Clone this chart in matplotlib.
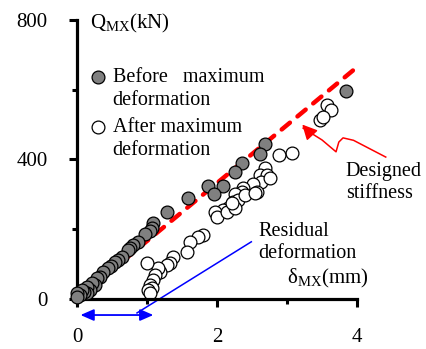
import numpy as np
import matplotlib
matplotlib.use("Agg")
import matplotlib.pyplot as plt
from matplotlib.ticker import MultipleLocator

plt.rcParams['font.family'] = ['Liberation Serif', 'DejaVu Serif']
plt.rcParams['mathtext.fontset'] = 'custom'
plt.rcParams['mathtext.rm'] = 'Liberation Serif'
plt.rcParams['mathtext.it'] = 'Liberation Serif:italic'

# before maximum deformation (filled grey)
before_x = [3.84, 2.69, 2.61, 2.36, 2.26, 2.09, 1.87, 1.96, 1.59, 1.29, 1.09, 1.07,
            1.04, 0.97, 0.87, 0.80, 0.76, 0.73, 0.64, 0.59, 0.54, 0.49, 0.44, 0.37,
            0.33, 0.29, 0.26, 0.21, 0.19, 0.14, 0.14, 0.10, 0.07, 0.04, 0.0, 0.0]
before_y = [596, 444, 416, 390, 364, 324, 324, 301, 290, 249, 218, 204,
            195, 186, 163, 155, 146, 140, 120, 112, 106, 95, 89, 77,
            63, 60, 40, 46, 26, 34, 17, 20, 26, 11, 17, 5]

# after maximum deformation (open)
after_x = [3.57, 3.63, 3.47, 3.51, 3.07, 2.89, 2.69, 2.61, 2.71, 2.63, 2.51, 2.57,
           2.76, 2.37, 2.36, 2.26, 2.23, 2.30, 2.16, 2.09, 1.97, 2.00, 2.14, 2.26,
           2.21, 2.40, 2.54, 1.80, 1.73, 1.61, 1.57, 1.37, 1.33, 1.29, 1.19, 1.16,
           1.00, 1.11, 1.09, 1.04, 1.07, 1.01, 1.04]
after_y = [556, 542, 513, 522, 419, 413, 376, 356, 356, 335, 330, 307,
           347, 318, 307, 301, 278, 284, 261, 255, 249, 235, 249, 261,
           275, 298, 304, 183, 178, 163, 135, 120, 103, 97, 77, 89,
           103, 69, 54, 40, 32, 26, 17]

# designed stiffness line
design_x = [0, 4.0]
design_y = [0, 665]

fig = plt.figure(figsize=(4.26, 3.49), dpi=100)
ax = fig.add_axes([0.1808, 0.1433, 0.6573, 0.7994])

ax.plot(design_x, design_y, color='#ff0000', lw=3.2, linestyle=(0, (2.4, 2.2)),
        dash_capstyle='round', zorder=1)
ax.scatter(after_x, after_y, s=85, facecolor='white', edgecolor='black',
           linewidth=0.9, zorder=2, clip_on=False)
ax.scatter(before_x, before_y, s=85, facecolor='#808080', edgecolor='black',
           linewidth=0.9, zorder=3, clip_on=False)

ax.set_xlim(0, 4)
ax.set_ylim(0, 800)
ax.xaxis.set_major_locator(MultipleLocator(2))
ax.xaxis.set_minor_locator(MultipleLocator(1))
ax.yaxis.set_major_locator(MultipleLocator(400))
ax.yaxis.set_minor_locator(MultipleLocator(200))
for s in ['top', 'right']:
    ax.spines[s].set_visible(False)
for s in ['left', 'bottom']:
    ax.spines[s].set_linewidth(2.3)
ax.tick_params(which='major', direction='out', length=6, width=2.2,
               labelsize=15, pad=15)
ax.tick_params(which='minor', direction='out', length=3.5, width=2.2)

# axis titles
ax.text(0.19, 790, r'Q$_{\mathrm{MX}}$(kN)', fontsize=15, va='center', ha='left')
ax.text(3.0, 60, r'δ$_{\mathrm{MX}}$(mm)', fontsize=15, va='center', ha='left')

# legend drawn by hand
ax.scatter([0.30], [636], s=85, facecolor='#808080', edgecolor='black',
           linewidth=0.9, clip_on=False)
ax.scatter([0.30], [493], s=85, facecolor='white', edgecolor='black',
           linewidth=0.9, clip_on=False)
ax.text(0.51, 636, 'Before   maximum', fontsize=14.5, va='center')
ax.text(0.51, 568, 'deformation', fontsize=14.5, va='center')
ax.text(0.51, 493, 'After maximum', fontsize=14.5, va='center')
ax.text(0.51, 425, 'deformation', fontsize=14.5, va='center')

ax.text(3.84, 334, 'Designed\nstiffness', fontsize=14.5, va='center',
        linespacing=1.15)
ax.text(2.59, 162, 'Residual\ndeformation', fontsize=14.5, va='center',
        linespacing=1.15)

# wavy red pointer to the design line
wx = [3.23, 3.50, 3.70, 3.74, 3.80, 3.95, 4.41]
wy = [490, 456, 422, 450, 462, 455, 407]
ax.plot(wx, wy, color='#ff0000', lw=1.1, clip_on=False)
ax.annotate('', xy=(3.19, 506), xytext=(3.32, 478),
            arrowprops=dict(arrowstyle='-|>,head_length=0.9,head_width=0.45',
                            color='#ff0000', lw=1.1))

# blue residual deformation pointer
ax.plot([0.857, 2.49], [-40, 164], color='#0000ff', lw=1.1, clip_on=False)
ax.annotate('', xy=(0.05, -46), xytext=(1.09, -46),
            arrowprops=dict(arrowstyle='<|-|>,head_length=0.8,head_width=0.35',
                            color='#0000ff', lw=1.3, shrinkA=0, shrinkB=0),
            annotation_clip=False)

fig.savefig('out.png', dpi=100)
